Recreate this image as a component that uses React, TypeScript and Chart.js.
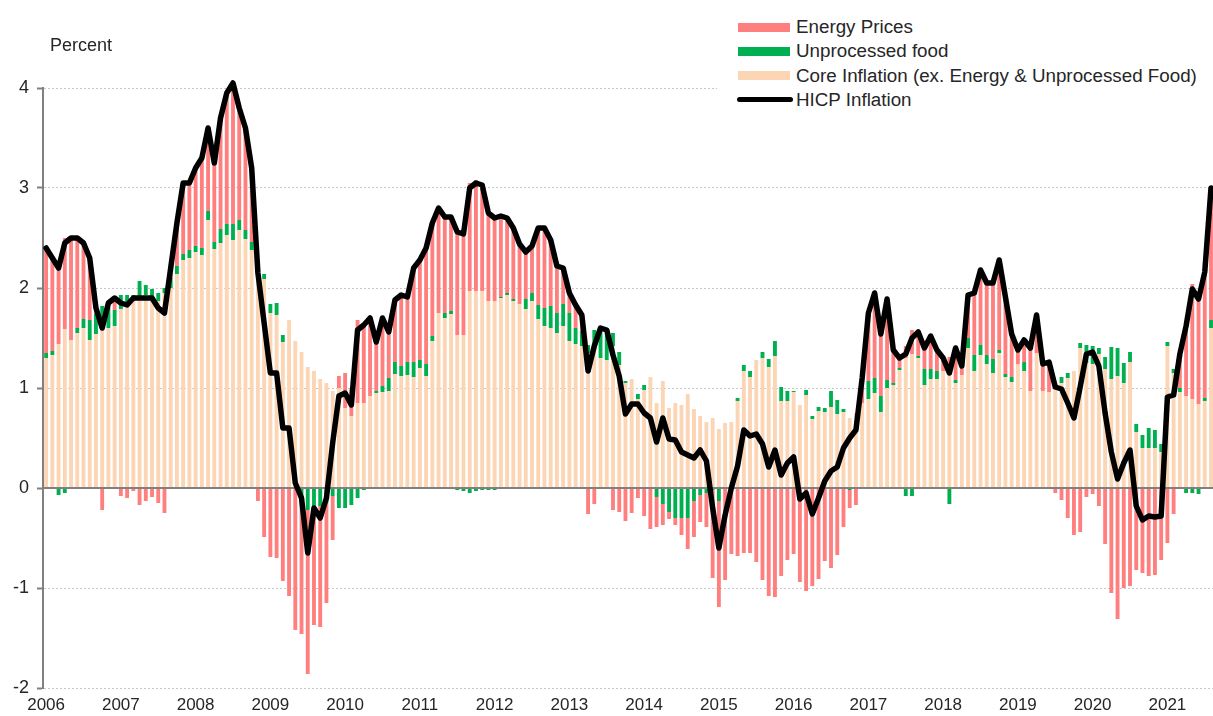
import React, { useEffect, useRef } from "react";
import { Chart, registerables } from "chart.js";

Chart.register(...registerables);

const years = [2006, 2007, 2008, 2009, 2010, 2011, 2012, 2013, 2014, 2015, 2016, 2017, 2018, 2019, 2020, 2021];
const monthCodes = ["01", "02", "03", "04", "05", "06", "07", "08", "09", "10", "11", "12"];
const lastMonthCount = 8; // data runs to Aug 2021

const yTicks = [-2, -1, 0, 1, 2, 3, 4];

// Core inflation (ex. energy & unprocessed food) contribution, pp
const core = [
  1.30, 1.33, 1.44, 1.59, 1.48, 1.55, 1.60, 1.48, 1.54, 1.62, 1.60, 1.62,
  1.79, 1.85, 1.87, 1.91, 1.93, 1.91, 1.87, 1.95, 2.00, 2.14, 2.28, 2.30,
  2.36, 2.33, 2.68, 2.39, 2.45, 2.53, 2.48, 2.58, 2.49, 2.38, 2.25, 2.09,
  1.75, 1.73, 1.46, 1.68, 1.47, 1.36, 1.21, 1.17, 1.09, 1.05, 0.97, 1.00,
  0.80, 0.72, 0.85, 0.85, 0.92, 0.95, 0.96, 0.97, 1.14, 1.12, 1.13, 1.11,
  1.20, 1.12, 1.47, 1.75, 1.70, 1.74, 1.53, 1.53, 1.97, 1.97, 1.97, 1.87,
  1.87, 1.90, 1.93, 1.87, 1.84, 1.79, 1.87, 1.69, 1.62, 1.60, 1.55, 1.62,
  1.47, 1.44, 1.42, 1.35, 1.38, 1.30, 1.28, 1.42, 1.23, 1.05, 1.09, 0.89,
  0.98, 1.11, 0.85, 1.07, 0.80, 0.85, 0.83, 0.94, 0.79, 0.72, 0.66, 0.70,
  0.59, 0.65, 0.66, 0.87, 1.17, 1.11, 1.28, 1.30, 1.21, 1.32, 0.87, 0.87,
  0.96, 0.83, 0.93, 0.69, 0.77, 0.76, 0.81, 0.74, 0.76, 0.70, 0.75, 0.85,
  0.89, 0.95, 0.76, 1.00, 1.03, 1.18, 1.30, 1.34, 1.30, 1.03, 1.09, 1.09,
  1.17, 1.16, 1.05, 1.13, 1.40, 1.17, 1.33, 1.24, 1.15, 1.35, 1.11, 1.06,
  1.24, 1.17, 0.97, 1.35, 0.97, 0.96, 1.06, 1.05, 1.10, 1.17, 1.40, 1.25,
  1.24, 1.34, 1.19, 1.09, 1.12, 1.05, 1.26, 0.56, 0.40, 0.40, 0.40, 0.36,
  1.42, 1.15, 0.96, 0.92, 0.89, 0.84, 0.87, 1.60,
];

// Unprocessed food contribution, pp
const food = [
  0.05, 0.04, -0.07, -0.05, 0.00, 0.05, 0.09, 0.20, 0.20, 0.20, 0.20, 0.16,
  0.14, 0.08, 0.06, 0.16, 0.10, 0.08, 0.08, 0.05, 0.10, 0.08, 0.06, 0.08,
  0.06, 0.07, 0.09, 0.07, 0.14, 0.11, 0.16, 0.10, 0.09, 0.08, 0.03, 0.05,
  0.09, 0.12, 0.07, 0.00, 0.00, -0.15, -0.22, -0.20, -0.18, -0.15, -0.08, -0.20,
  -0.20, -0.17, -0.10, -0.02, 0.00, 0.02, 0.06, 0.13, 0.12, 0.10, 0.13, 0.15,
  0.08, 0.12, 0.05, 0.00, 0.05, 0.03, -0.02, -0.03, -0.05, -0.03, -0.02, -0.02,
  -0.02, 0.01, 0.02, 0.02, 0.00, 0.10, 0.08, 0.14, 0.18, 0.22, 0.20, 0.22,
  0.28, 0.16, 0.15, 0.08, 0.20, 0.30, 0.30, 0.13, 0.13, 0.02, 0.00, 0.05,
  0.05, 0.00, -0.09, -0.16, -0.24, -0.30, -0.30, -0.30, -0.13, -0.07, -0.05, -0.02,
  -0.13, 0.00, 0.00, 0.03, 0.06, 0.06, 0.00, 0.06, 0.08, 0.15, 0.14, 0.10,
  0.01, 0.00, 0.05, 0.03, 0.04, 0.04, 0.16, 0.14, 0.03, -0.02, 0.00, 0.00,
  0.18, 0.15, 0.16, 0.08, 0.02, 0.02, -0.08, -0.08, 0.02, 0.16, 0.10, 0.08,
  0.00, -0.16, 0.03, 0.00, 0.10, 0.16, 0.10, 0.09, 0.14, 0.03, 0.03, 0.05,
  0.00, 0.09, 0.00, 0.00, 0.00, 0.00, 0.00, 0.06, 0.05, 0.00, 0.05, 0.18,
  0.18, 0.06, 0.12, 0.32, 0.28, 0.20, 0.10, 0.08, 0.13, 0.20, 0.18, 0.08,
  0.04, 0.04, 0.04, -0.05, -0.05, -0.06, 0.03, 0.08,
];

// Energy prices contribution, pp
const energy = [
  1.05, 0.93, 0.83, 0.91, 1.02, 0.90, 0.76, 0.62, 0.06, -0.22, 0.05, 0.12,
  -0.08, -0.10, -0.03, -0.17, -0.13, -0.09, -0.15, -0.25, 0.10, 0.43, 0.71, 0.67,
  0.78, 0.90, 0.83, 0.79, 1.11, 1.31, 1.41, 1.12, 1.02, 0.74, -0.13, -0.49,
  -0.69, -0.70, -0.93, -1.08, -1.42, -1.31, -1.64, -1.17, -1.21, -1.00, -0.44, 0.12,
  0.35, 0.28, 0.83, 0.80, 0.78, 0.49, 0.68, 0.46, 0.62, 0.71, 0.65, 0.94,
  1.00, 1.16, 1.13, 1.05, 0.96, 0.94, 1.05, 1.04, 1.08, 1.11, 1.08, 0.90,
  0.85, 0.81, 0.75, 0.71, 0.60, 0.47, 0.47, 0.77, 0.80, 0.66, 0.47, 0.36,
  0.20, 0.23, 0.16, -0.26, -0.16, 0.00, 0.00, -0.22, -0.24, -0.33, -0.25, -0.10,
  -0.28, -0.41, -0.30, -0.21, -0.07, -0.07, -0.17, -0.31, -0.36, -0.27, -0.34, -0.88,
  -1.06, -0.92, -0.66, -0.68, -0.65, -0.65, -0.74, -0.92, -1.08, -1.09, -0.88, -0.72,
  -0.66, -0.94, -1.03, -0.98, -0.91, -0.73, -0.80, -0.67, -0.39, -0.18, -0.17, 0.25,
  0.68, 0.85, 0.62, 0.81, 0.33, 0.10, 0.12, 0.24, 0.24, 0.21, 0.33, 0.21,
  0.13, 0.15, 0.32, 0.09, 0.43, 0.62, 0.75, 0.72, 0.76, 0.90, 0.77, 0.43,
  0.14, 0.22, 0.43, 0.38, 0.27, 0.30, -0.05, -0.12, -0.30, -0.47, -0.44, -0.09,
  -0.06, -0.18, -0.56, -1.05, -1.31, -1.00, -0.98, -0.82, -0.85, -0.88, -0.87, -0.72,
  -0.55, -0.26, 0.34, 0.75, 1.15, 1.11, 1.26, 1.32,
];

// HICP inflation, %
const hicp = [
  2.40, 2.30, 2.20, 2.45, 2.50, 2.50, 2.45, 2.30, 1.80, 1.60, 1.85, 1.90,
  1.85, 1.83, 1.90, 1.90, 1.90, 1.90, 1.80, 1.75, 2.20, 2.65, 3.05, 3.05,
  3.20, 3.30, 3.60, 3.25, 3.70, 3.95, 4.05, 3.80, 3.60, 3.20, 2.15, 1.65,
  1.15, 1.15, 0.60, 0.60, 0.05, -0.10, -0.65, -0.20, -0.30, -0.10, 0.45, 0.92,
  0.95, 0.83, 1.58, 1.63, 1.70, 1.46, 1.70, 1.56, 1.88, 1.93, 1.91, 2.20,
  2.28, 2.40, 2.65, 2.80, 2.71, 2.71, 2.56, 2.54, 3.00, 3.05, 3.03, 2.75,
  2.70, 2.72, 2.70, 2.60, 2.44, 2.36, 2.42, 2.60, 2.60, 2.48, 2.22, 2.20,
  1.95, 1.83, 1.73, 1.17, 1.42, 1.60, 1.58, 1.33, 1.12, 0.74, 0.84, 0.84,
  0.75, 0.70, 0.46, 0.70, 0.49, 0.48, 0.36, 0.33, 0.30, 0.38, 0.27, -0.20,
  -0.60, -0.27, 0.00, 0.22, 0.58, 0.52, 0.54, 0.44, 0.21, 0.38, 0.13, 0.25,
  0.31, -0.11, -0.05, -0.26, -0.10, 0.07, 0.17, 0.21, 0.40, 0.50, 0.58, 1.10,
  1.75, 1.95, 1.54, 1.89, 1.38, 1.30, 1.34, 1.50, 1.56, 1.40, 1.52, 1.38,
  1.30, 1.15, 1.40, 1.22, 1.93, 1.95, 2.18, 2.05, 2.05, 2.28, 1.91, 1.54,
  1.38, 1.48, 1.40, 1.73, 1.24, 1.26, 1.01, 0.99, 0.85, 0.70, 1.01, 1.34,
  1.36, 1.22, 0.75, 0.36, 0.09, 0.25, 0.38, -0.18, -0.32, -0.28, -0.29, -0.28,
  0.91, 0.93, 1.34, 1.62, 1.99, 1.89, 2.16, 3.00,
];

const COLORS = {
  energy: "#FF7F7F",
  food: "#00B050",
  core: "#FCD5B4",
  line: "#000000",
};

const FONT = "'Liberation Sans', Arial, sans-serif";

const labels: string[] = [];
years.forEach((y, yi) => {
  const n = yi === years.length - 1 ? lastMonthCount : 12;
  for (let m = 0; m < n; m++) labels.push(`${y}-${monthCodes[m]}`);
});

const zeroLinePlugin = {
  id: "zeroLine",
  beforeDatasetDraw(chart: any, args: any) {
    if (args.meta.type !== "line") return;
    const { ctx, chartArea, scales } = chart;
    const y = Math.round(scales.y.getPixelForValue(0));
    ctx.save();
    ctx.strokeStyle = "#808080";
    ctx.lineWidth = 2;
    ctx.beginPath();
    ctx.moveTo(chartArea.left, y);
    ctx.lineTo(chartArea.right, y);
    ctx.stroke();
    ctx.restore();
  },
};

const legendItems = [
  { label: "Energy Prices", color: COLORS.energy, kind: "bar" },
  { label: "Unprocessed food", color: COLORS.food, kind: "bar" },
  { label: "Core Inflation (ex. Energy & Unprocessed Food)", color: COLORS.core, kind: "bar" },
  { label: "HICP Inflation", color: COLORS.line, kind: "line" },
];

export default function App() {
  const canvasRef = useRef<HTMLCanvasElement | null>(null);

  useEffect(() => {
    if (!canvasRef.current) return;
    const chart = new Chart(canvasRef.current, {
      type: "bar",
      data: {
        labels,
        datasets: [
          {
            type: "line",
            label: "HICP Inflation",
            data: hicp,
            borderColor: COLORS.line,
            backgroundColor: COLORS.line,
            borderWidth: 5.5,
            pointRadius: 0,
            tension: 0,
            borderJoinStyle: "round",
            borderCapStyle: "round",
            stack: "line",
            order: 0,
            clip: 12,
          } as any,
          {
            label: "Core Inflation (ex. Energy & Unprocessed Food)",
            data: core,
            backgroundColor: COLORS.core,
            stack: "bars",
            order: 1,
            categoryPercentage: 1,
            barPercentage: 0.62,
          },
          {
            label: "Unprocessed food",
            data: food,
            backgroundColor: COLORS.food,
            stack: "bars",
            order: 1,
            categoryPercentage: 1,
            barPercentage: 0.62,
          },
          {
            label: "Energy Prices",
            data: energy,
            backgroundColor: COLORS.energy,
            stack: "bars",
            order: 1,
            categoryPercentage: 1,
            barPercentage: 0.62,
          },
        ],
      },
      options: {
        responsive: false,
        animation: false,
        layout: { padding: { top: 88, right: 0, bottom: 0, left: 0 } },
        plugins: {
          legend: { display: false },
          tooltip: { enabled: false },
          title: { display: false },
        },
        scales: {
          x: {
            stacked: true,
            offset: true,
            grid: { display: false, drawTicks: false },
            border: { display: false },
            ticks: {
              autoSkip: false,
              maxRotation: 0,
              minRotation: 0,
              padding: 7,
              color: "#262626",
              font: { family: FONT, size: 17 },
              callback: function (this: any, value: any) {
                const lab = labels[value as number];
                return lab && lab.endsWith("-01") ? lab.slice(0, 4) : "";
              },
            },
            afterFit: (scale: any) => {
              scale.height = 28;
            },
          },
          y: {
            stacked: true,
            min: -2,
            max: 4,
            afterBuildTicks: (scale: any) => {
              scale.ticks = yTicks.map((v) => ({ value: v }));
            },
            grid: {
              color: (ctx: any) => (ctx.tick && ctx.tick.value === 0 ? "rgba(0,0,0,0)" : "#c8c8c8"),
              lineWidth: 1,
              drawTicks: true,
              tickLength: 6,
              tickColor: "#808080",
              tickWidth: 2,
            },
            border: { display: true, color: "#808080", width: 2, dash: [2, 2] },
            ticks: {
              padding: 8,
              color: "#262626",
              font: { family: FONT, size: 18 },
            },
            afterFit: (scale: any) => {
              scale.width = 43;
            },
          },
        },
      },
      plugins: [zeroLinePlugin],
    });
    return () => chart.destroy();
  }, []);

  return (
    <div
      style={{
        position: "fixed",
        left: 0,
        top: 0,
        width: 1218,
        height: 716,
        background: "#ffffff",
        overflow: "hidden",
        fontFamily: FONT,
      }}
    >
      <canvas ref={canvasRef} width={1218} height={716} style={{ display: "block" }} />
      <div
        style={{
          position: "absolute",
          left: 50,
          top: 34,
          height: 22,
          lineHeight: "22px",
          fontSize: 18,
          color: "#262626",
          whiteSpace: "nowrap",
        }}
      >
        Percent
      </div>
      <div
        style={{
          position: "absolute",
          left: 717,
          top: 10,
          width: 501,
          height: 102,
          background: "#ffffff",
        }}
      >
        {legendItems.map((it, i) => {
          const cy = 17 + i * 24.3;
          return (
            <React.Fragment key={it.label}>
              {it.kind === "bar" ? (
                <div
                  style={{
                    position: "absolute",
                    left: 21,
                    top: cy - 4.5,
                    width: 52,
                    height: 9,
                    background: it.color,
                  }}
                />
              ) : (
                <div
                  style={{
                    position: "absolute",
                    left: 20,
                    top: cy - 2.5,
                    width: 56,
                    height: 5,
                    borderRadius: 3,
                    background: it.color,
                  }}
                />
              )}
              <div
                style={{
                  position: "absolute",
                  left: 79,
                  top: cy - 11,
                  height: 22,
                  lineHeight: "22px",
                  fontSize: 18.8,
                  color: "#262626",
                  whiteSpace: "nowrap",
                }}
              >
                {it.label}
              </div>
            </React.Fragment>
          );
        })}
      </div>
    </div>
  );
}
